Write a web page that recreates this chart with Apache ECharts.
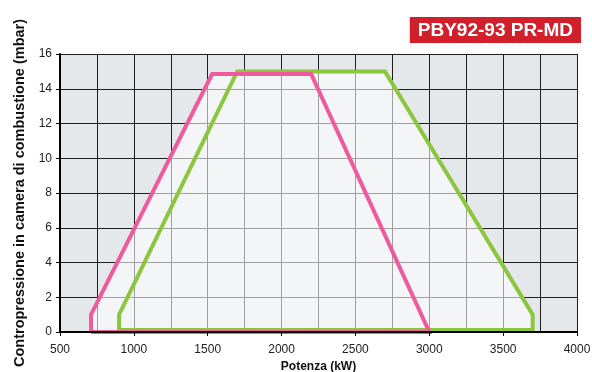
<!DOCTYPE html>
<html>
<head>
<meta charset="utf-8">
<script src="https://cdn.jsdelivr.net/npm/echarts@6/dist/echarts.min.js"></script>
<style>
html,body{margin:0;padding:0;background:#ffffff;}
#chart{width:592px;height:372px;}
</style>
</head>
<body>
<div id="chart"></div>
<script>
// ---- data ----
const titleText = 'PBY92-93 PR-MD';
const xName = 'Potenza (kW)';
const yName = 'Contropressione in camera di combustione (mbar)';
const xTicks = [500, 1000, 1500, 2000, 2500, 3000, 3500, 4000];
const yTicks = [0, 2, 4, 6, 8, 10, 12, 14, 16];
// pink envelope (PBY92)
const pinkX = [710, 710, 1530, 2200, 3000, 710];
const pinkY = [0, 1, 14.85, 14.85, 0, 0];
// green envelope (PBY93)
const greenX = [900, 900, 1700, 2700, 3700, 3700, 900];
const greenY = [0.12, 1, 15, 15, 1, 0.12, 0.12];

const pinkPts = pinkX.map((x, i) => [x, pinkY[i]]);
const greenPts = greenX.map((x, i) => [x, greenY[i]]);
// union outline of both envelopes: left side from pink, right side from green
const unionPts = pinkPts.slice(0, 3).concat(greenPts.slice(2, 6));

const xMin = xTicks[0], xMax = xTicks[xTicks.length - 1];
const yMin = yTicks[0], yMax = yTicks[yTicks.length - 1];
const FONT = 'Liberation Sans';

const chart = echarts.init(document.getElementById('chart'), null, {renderer: 'canvas'});
chart.setOption({
  animation: false,
  backgroundColor: '#ffffff',
  title: {
    text: titleText,
    right: 11,
    top: 17,
    backgroundColor: '#d1202b',
    padding: [4, 8, 3, 8],
    textStyle: {color: '#ffffff', fontFamily: FONT, fontWeight: 'bold', fontSize: 19, lineHeight: 19}
  },
  grid: {left: 60, right: 15, top: 54, bottom: 40, show: true, backgroundColor: '#e5e8eb', borderWidth: 0,
         containLabel: false, outerBoundsMode: 'none'},
  xAxis: [
    {
      type: 'value', min: xMin, max: xMax, interval: 500, z: 0,
      axisLine: {show: false}, axisTick: {show: false}, axisLabel: {show: false},
      splitLine: {show: true, lineStyle: {color: '#1c1c1c', width: 1}},
      minorTick: {show: false, splitNumber: 2},
      minorSplitLine: {show: true, lineStyle: {color: '#1c1c1c', width: 1}}
    },
    {
      type: 'value', min: xMin, max: xMax, interval: 500, z: 10, position: 'bottom',
      name: xName, nameLocation: 'middle', nameGap: 22,
      nameTextStyle: {fontFamily: FONT, fontWeight: 'bold', fontSize: 12, color: '#111'},
      axisLine: {show: true, onZero: false, lineStyle: {color: '#000', width: 2}},
      axisTick: {show: true, length: 4, inside: false, lineStyle: {color: '#000', width: 1}},
      axisLabel: {show: true, margin: 12, fontFamily: FONT, fontSize: 12, color: '#222',
                  formatter: v => String(v)},
      splitLine: {show: false}
    }
  ],
  yAxis: [
    {
      type: 'value', min: yMin, max: yMax, interval: 2, z: 0,
      axisLine: {show: false}, axisTick: {show: false}, axisLabel: {show: false},
      splitLine: {show: true, lineStyle: {color: '#1c1c1c', width: 1}}
    },
    {
      type: 'value', min: yMin, max: yMax, interval: 2, z: 10, position: 'left',
      name: yName, nameLocation: 'middle', nameGap: 32,
      nameTextStyle: {fontFamily: FONT, fontWeight: 'bold', fontSize: 14.5, color: '#111'},
      axisLine: {show: true, onZero: false, lineStyle: {color: '#000', width: 2}},
      axisTick: {show: true, length: 4, lineStyle: {color: '#000', width: 1}},
      axisLabel: {show: true, margin: 8, fontFamily: FONT, fontSize: 12, color: '#222',
                  formatter: v => String(v)},
      splitLine: {show: false}
    }
  ],
  series: [
    {
      type: 'custom', xAxisIndex: 0, yAxisIndex: 0, z: 1, silent: true,
      data: [[0]],
      renderItem: function (params, api) {
        const pts = unionPts.map(p => api.coord(p));
        return {
          type: 'polygon',
          shape: {points: pts},
          style: {fill: 'rgba(255,255,255,0.58)', stroke: null}
        };
      }
    },
    {
      type: 'line', xAxisIndex: 0, yAxisIndex: 0, z: 3,
      data: greenPts, showSymbol: false, symbol: 'none', smooth: false,
      lineStyle: {color: '#8cc63f', width: 4, join: 'miter'}
    },
    {
      type: 'line', xAxisIndex: 0, yAxisIndex: 0, z: 4,
      data: pinkPts, showSymbol: false, symbol: 'none', smooth: false,
      lineStyle: {color: '#ee5a9d', width: 4, join: 'miter'}
    }
  ]
});
</script>
</body>
</html>
